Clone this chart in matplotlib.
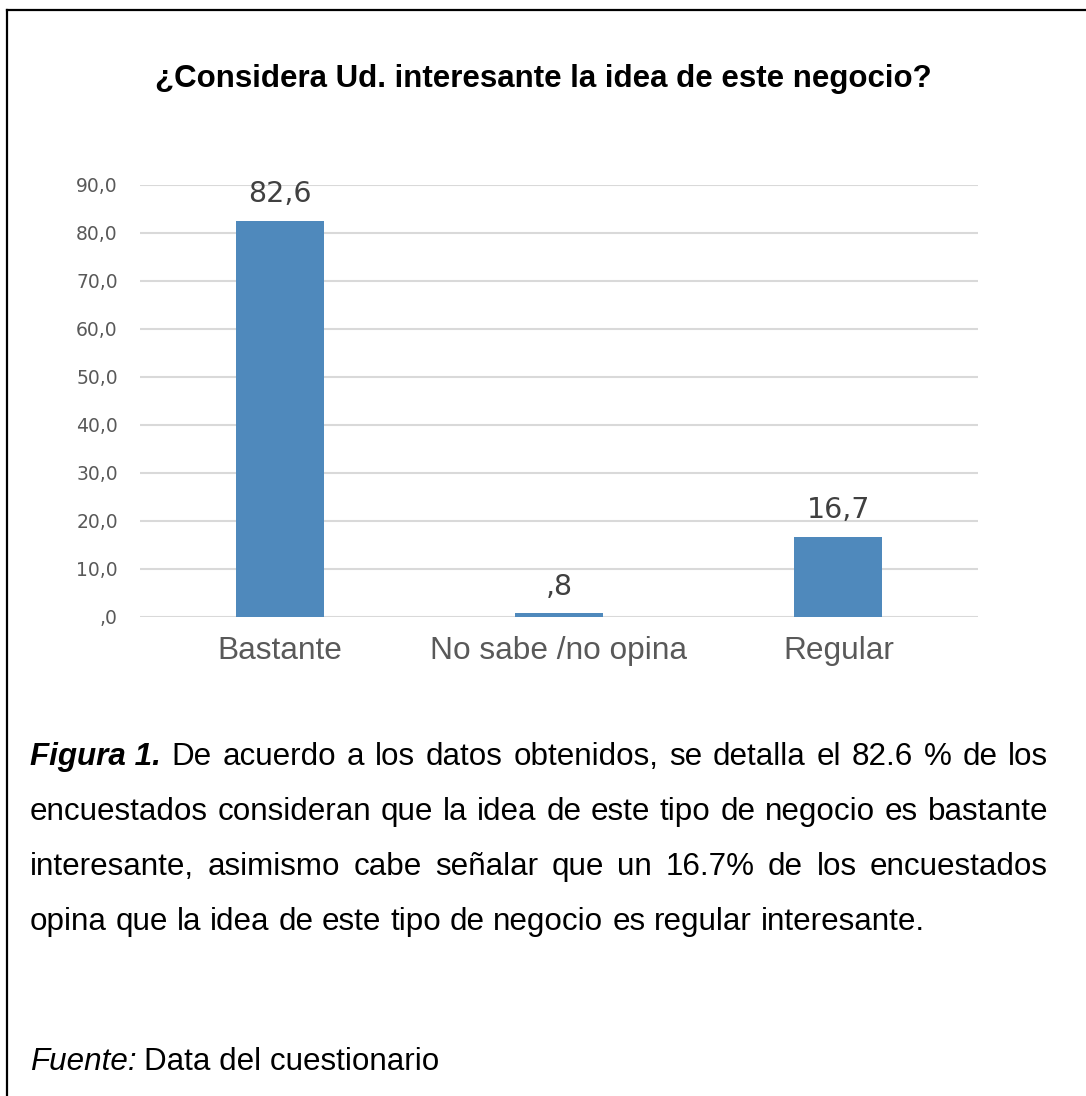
import matplotlib
matplotlib.use('Agg')
import matplotlib.pyplot as plt
from matplotlib.lines import Line2D

categories = ['Bastante', 'No sabe /no opina', 'Regular']
values = [82.6, 0.8, 16.7]
y_ticks = [0, 10, 20, 30, 40, 50, 60, 70, 80, 90]

title = '¿Considera Ud. interesante la idea de este negocio?'
caption_lead = 'Figura 1.'
caption_lines = [
    'De acuerdo a los datos obtenidos, se detalla el 82.6 % de los',
    'encuestados consideran que la idea de este tipo de negocio es bastante',
    'interesante, asimismo cabe señalar que un 16.7% de los encuestados',
    'opina que la idea de este tipo de negocio es regular interesante.',
]
source_lead = 'Fuente:'
source_text = 'Data del cuestionario'

FONT = 'Liberation Sans'
CHART_FONT = 'DejaVu Sans'
W, H = 1086, 1096


def comma(v):
    s = f'{v:.1f}'.replace('.', ',')
    return s[1:] if s.startswith('0') else s


fig = plt.figure(figsize=(W / 100, H / 100), dpi=100)
plt.rcParams['font.family'] = FONT

# frame: only left and top edges visible
fig.add_artist(Line2D([7 / W, 7 / W], [0, 1 - 10 / H], color='black', lw=1.6,
                      transform=fig.transFigure))
fig.add_artist(Line2D([7 / W, 1], [1 - 10 / H, 1 - 10 / H], color='black', lw=1.6,
                      transform=fig.transFigure))

fig.text(0.5 * (157 + 930) / W, 1 - 87 / H, title, ha='center', va='baseline',
         fontsize=22.5, fontweight='bold', color='black')

ax = fig.add_axes([140 / W, 1 - 617 / H, (978 - 140) / W, (617 - 185) / H])
x = range(len(categories))
bars = ax.bar(x, values, width=0.315, color='#4f89bc', zorder=3)
ax.set_xlim(-0.5, 2.5)
ax.set_ylim(0, 90)
ax.set_yticks(y_ticks)
ax.set_yticklabels([comma(v) for v in y_ticks], family=CHART_FONT)
ax.set_xticks(list(x))
ax.set_xticklabels(categories)
ax.grid(axis='y', color='#d9d9d9', lw=1.5, zorder=0)
ax.tick_params(axis='y', length=0, pad=16, labelsize=13.5, labelcolor='#595959')
ax.tick_params(axis='x', length=0, pad=14, labelsize=22.8, labelcolor='#595959')
for s in ax.spines.values():
    s.set_visible(False)
ax.bar_label(bars, labels=[comma(v) for v in values], padding=9,
             fontsize=20.5, color='#404040', family=CHART_FONT)

# justified caption paragraph
r = fig.canvas.get_renderer()
x0, x1 = 30, 1048
cap_size = 22.6
baselines = [765, 820, 875, 930]


def measure(t):
    return t.get_window_extent(r).width


helpers = []
for i, line in enumerate(caption_lines):
    y = 1 - baselines[i] / H
    tokens = []
    if i == 0:
        tokens.append(fig.text(0, y, caption_lead, va='baseline', fontsize=cap_size,
                               fontweight='bold', fontstyle='italic'))
    for w in line.split(' '):
        tokens.append(fig.text(0, y, w, va='baseline', fontsize=cap_size))
    widths = [measure(t) for t in tokens]
    if i < len(caption_lines) - 1:
        gap = (x1 - x0 - sum(widths)) / (len(tokens) - 1)
    else:
        h1 = fig.text(0, 0, 'a a', fontsize=cap_size)
        h2 = fig.text(0, 0, 'aa', fontsize=cap_size)
        gap = measure(h1) - measure(h2)
        helpers += [h1, h2]
    pos = x0
    for t, w in zip(tokens, widths):
        t.set_x(pos / W)
        pos += w + gap
for h in helpers:
    h.remove()

ys = 1 - 1070 / H
lead = fig.text(x0 / W, ys, source_lead, va='baseline', fontsize=cap_size,
                fontstyle='italic')
lw = measure(lead)
fig.text((x0 + lw + 7) / W, ys, source_text, va='baseline', fontsize=cap_size)

fig.savefig('out.png', dpi=100, facecolor='white')
